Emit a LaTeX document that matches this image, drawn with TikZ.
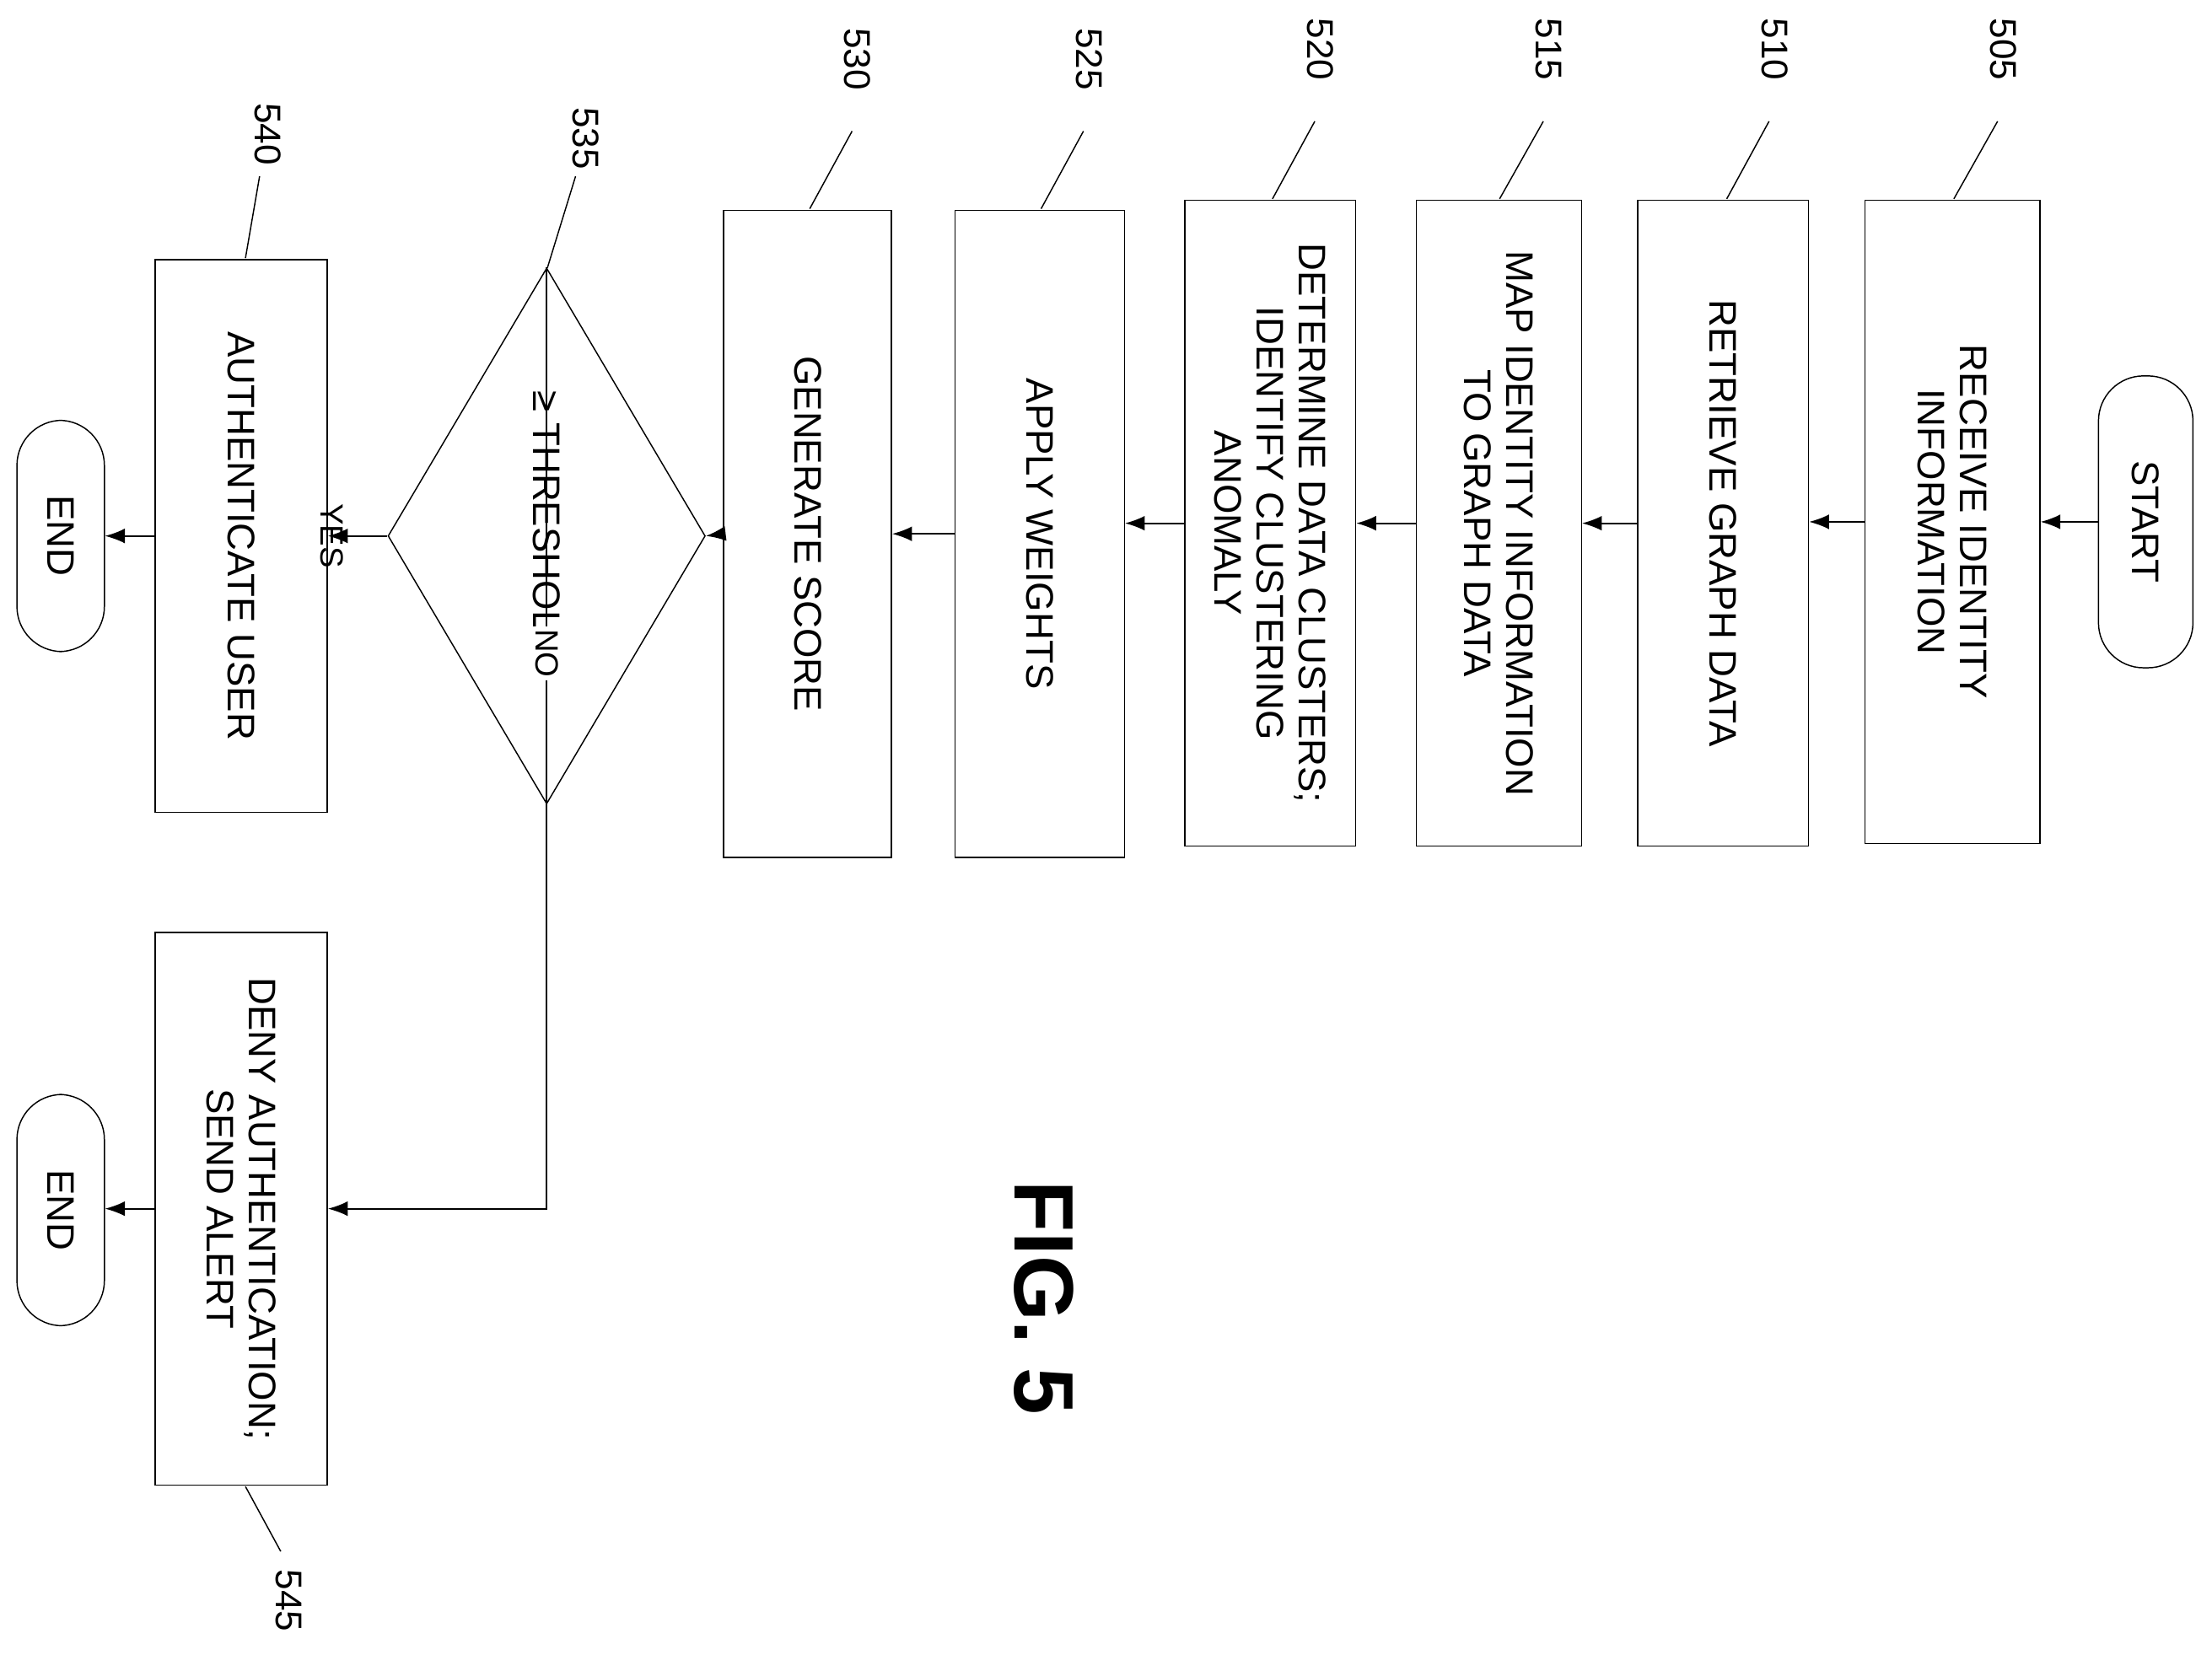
\documentclass[tikz,border=0pt]{standalone}
\usepackage{fontspec}
\setmainfont{Liberation Sans}
\usetikzlibrary{shapes.geometric,arrows.meta}
\begin{document}
\begin{tikzpicture}[x=0.02cm,y=-0.02cm,
  every node/.style={font=\fontsize{15.5}{17}\selectfont},
  box/.style={draw,rotate=-90,align=center,inner sep=2pt,line width=0.5pt},
  term/.style={box,rounded corners=0.64cm},
  arr/.style={-{Latex[length=8pt,width=6pt]},line width=0.6pt},
  lab/.style={rotate=-90,font=\fontsize{15}{17}\selectfont},
  lead/.style={line width=0.5pt}]
\useasboundingbox (0,0) rectangle (1568,1173);
\node[term,minimum width=4.14cm,minimum height=1.34cm] (st) at (1521,370) {START};
\node[box,minimum width=9.12cm,minimum height=2.48cm] (a) at (1384,370) {RECEIVE IDENTITY\\INFORMATION};
\node[box,minimum width=9.16cm,minimum height=2.42cm] (b) at (1221.5,371) {RETRIEVE GRAPH DATA};
\node[box,minimum width=9.16cm,minimum height=2.34cm] (c) at (1062.5,371) {MAP IDENTITY INFORMATION\\TO GRAPH DATA};
\node[box,minimum width=9.16cm,minimum height=2.42cm] (d) at (900.5,371) {DETERMINE DATA CLUSTERS;\\IDENTIFY CLUSTERING\\ANOMALY};
\node[box,minimum width=9.18cm,minimum height=2.4cm] (e) at (737,378.5) {APPLY WEIGHTS};
\node[box,minimum width=9.18cm,minimum height=2.38cm] (f) at (572.5,378.5) {GENERATE SCORE};
\node[draw,diamond,rotate=-90,minimum width=7.6cm,minimum height=2.9cm,inner sep=0pt,line width=0.5pt] (g) at (387.5,380) {≥ THRESHOLD?};
\node[box,minimum width=7.84cm,minimum height=2.44cm] (h) at (171,380) {AUTHENTICATE USER};
\node[box,minimum width=7.84cm,minimum height=2.44cm] (i) at (171,857) {DENY AUTHENTICATION;\\SEND ALERT};
\node[term,minimum width=3.28cm,minimum height=1.24cm] (e1) at (43,380) {END};
\node[term,minimum width=3.28cm,minimum height=1.24cm] (e2) at (43,858) {END};
\node[rotate=-90,font=\fontsize{34}{36}\selectfont\bfseries] (fig) at (740,920) {FIG. 5};
\draw[arr] (st.south) -- (a.north |- st.south);
\draw[arr] (a.south) -- (b.north |- a.south);
\draw[arr] (b.south) -- (c.north |- b.south);
\draw[arr] (c.south) -- (d.north |- c.south);
\draw[arr] (d.south) -- (e.north |- d.south);
\draw[arr] (e.south) -- (f.north |- e.south);
\draw[arr] (f.south) -- (g.north);
\draw[arr] (g.south) -- node[lab,below=2pt,font=\fontsize{13}{15}\selectfont] (yes) {YES} (h.north |- g.south);
\draw[arr] (h.south) -- (e1.north |- h.south);
\coordinate (nc) at (387.5,857);
\draw[arr] (g.west) -- node[pos=0.41,fill=white,lab,inner sep=1pt,font=\fontsize{13}{15}\selectfont] (no) {NO} (nc) -- (i.north |- nc);
\draw[arr] (i.south) -- (e2.north |- i.south);
% reference labels
\node[lab] (l505) at (1420,35) {505};
\node[lab] (l510) at (1258,35) {510};
\node[lab] (l515) at (1098,35) {515};
\node[lab] (l520) at (936,35) {520};
\node[lab] (l525) at (772,42) {525};
\node[lab] (l530) at (608,42) {530};
\node[lab] (l535) at (415,98) {535};
\node[lab] (l540) at (190,95) {540};
\node[lab] (l545) at (205,1135) {545};
\draw[lead] (1385,141) -- (1416,86);
\draw[lead] (1224,141) -- (1254,86);
\draw[lead] (1063,141) -- (1094,86);
\draw[lead] (902,141) -- (932,86);
\draw[lead] (738,148) -- (768,93);
\draw[lead] (574,148) -- (604,93);
\draw[lead] (388,190) -- (408,125);
\draw[lead] (174,183) -- (184,125);
\draw[lead] (174,1054) -- (199,1100);
\end{tikzpicture}
\end{document}
